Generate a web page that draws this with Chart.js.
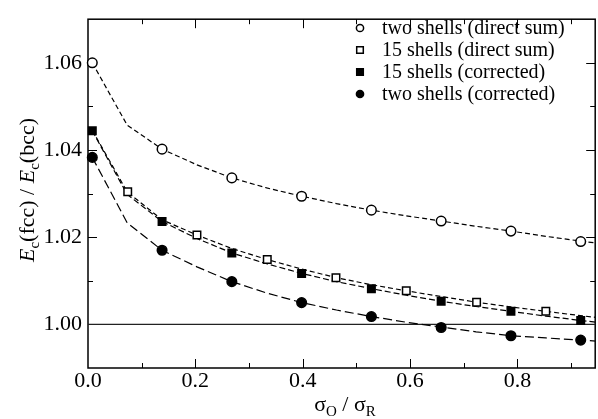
<!DOCTYPE html>
<html>
<head>
<meta charset="utf-8">
<script src="https://cdn.jsdelivr.net/npm/chart.js@4.4.1/dist/chart.umd.min.js"></script>
<style>
  html, body { margin: 0; padding: 0; background: #fff; overflow: hidden; }
  #wrap { width: 602px; height: 419px; }
</style>
</head>
<body>
<div id="wrap"><canvas id="ratioChart" width="602" height="419"></canvas></div>
<script>
// marker positions (sigma_O / sigma_R) and values
var xCircle = [0.008, 0.138, 0.268, 0.398, 0.528, 0.658, 0.788, 0.918];
var xSquare = [0.074, 0.203, 0.334, 0.462, 0.593, 0.724, 0.853];

var twoDirect = [1.0600, 1.0402, 1.0336, 1.0294, 1.0262, 1.0237, 1.0214, 1.0190];
var fifteenDirect = [1.0304, 1.0205, 1.0149, 1.0107, 1.0077, 1.0051, 1.0030];
var fifteenCorr = [1.0444, 1.0236, 1.0164, 1.0117, 1.0082, 1.0053, 1.0030, 1.0009];
var twoCorr = [1.0383, 1.0170, 1.0098, 1.0050, 1.0018, 0.9993, 0.9974, 0.9964];

// dashed fit curves, sampled along x
var xCurve = [0.008, 0.073, 0.138, 0.203, 0.268, 0.333, 0.398, 0.463, 0.528, 0.593, 0.658, 0.723, 0.788, 0.853, 0.918, 0.983];
var curveTwoDirect = [1.0600, 1.0457, 1.0402, 1.0366, 1.0336, 1.0313, 1.0294, 1.0277, 1.0262, 1.0249, 1.0237, 1.0225, 1.0214, 1.0202, 1.0191, 1.0181];
var curveFifteenDirect = [1.0445, 1.0304, 1.0240, 1.0205, 1.0174, 1.0149, 1.0127, 1.0107, 1.0091, 1.0077, 1.0064, 1.0051, 1.0040, 1.0030, 1.0020, 1.0011];
var curveFifteenCorr = [1.0444, 1.0298, 1.0236, 1.0197, 1.0164, 1.0139, 1.0117, 1.0098, 1.0082, 1.0067, 1.0053, 1.0041, 1.0030, 1.0019, 1.0009, 1.0000];
var curveTwoCorr = [1.0383, 1.0233, 1.0170, 1.0132, 1.0098, 1.0072, 1.0050, 1.0033, 1.0018, 1.0005, 0.9994, 0.9983, 0.9974, 0.9969, 0.9964, 0.9959];

var xTicks = [0.0, 0.2, 0.4, 0.6, 0.8];
var yTicks = [1.00, 1.02, 1.04, 1.06];

var legendLabels = ['two shells (direct sum)', '15 shells (direct sum)', '15 shells (corrected)', 'two shells (corrected)'];

var serif = '"Liberation Serif", "DejaVu Serif", serif';

function pts(xs, ys) {
  return ys.map(function(v, i) { return { x: xs[i], y: v }; });
}

function markerSet(label, xs, ys, style, filled, r) {
  return {
    label: label,
    data: pts(xs, ys),
    showLine: false,
    pointStyle: style,
    pointRadius: r,
    pointHoverRadius: r,
    pointBorderWidth: 1.5,
    borderColor: '#000',
    backgroundColor: filled ? '#000' : '#fff',
    clip: 10,
    order: 1
  };
}

function curveSet(ys, dash) {
  return {
    data: pts(xCurve, ys),
    showLine: true,
    pointRadius: 0,
    borderColor: '#000',
    borderWidth: 1.2,
    borderDash: dash,
    tension: 0,
    order: 2
  };
}

// frame with inward ticks on all four sides
var framePlugin = {
  id: 'frame',
  beforeDatasetsDraw: function(chart) {
    var ctx = chart.ctx, a = chart.chartArea;
    var x = chart.scales.x, y = chart.scales.y;
    ctx.save();
    ctx.strokeStyle = '#000';
    ctx.lineWidth = 1;
    ctx.beginPath();
    for (var i = 1; i <= 9; i++) {
      var px = Math.round(x.getPixelForValue(i / 10)) + 0.5;
      var len = i % 2 === 0 ? 9 : 5;
      ctx.moveTo(px, a.bottom); ctx.lineTo(px, a.bottom - len);
      ctx.moveTo(px, a.top); ctx.lineTo(px, a.top + len);
    }
    for (var j = 100; j <= 106; j++) {
      var py = Math.round(y.getPixelForValue(j / 100)) + 0.5;
      var l2 = j % 2 === 0 ? 9 : 5;
      ctx.moveTo(a.left, py); ctx.lineTo(a.left + l2, py);
      ctx.moveTo(a.right, py); ctx.lineTo(a.right - l2, py);
    }
    ctx.stroke();
    ctx.lineWidth = 1.5;
    ctx.strokeRect(a.left, a.top, a.right - a.left, a.bottom - a.top);
    ctx.restore();
  }
};

function drawRich(ctx, parts, cx, cy) {
  var total = 0;
  parts.forEach(function(p) { ctx.font = p.font; total += ctx.measureText(p.t).width; });
  var cur = cx - total / 2;
  parts.forEach(function(p) {
    ctx.font = p.font;
    ctx.fillText(p.t, cur, cy + (p.dy || 0));
    cur += ctx.measureText(p.t).width;
  });
}

var textPlugin = {
  id: 'texts',
  afterDraw: function(chart) {
    var ctx = chart.ctx;
    var big = '22px ' + serif, bigIt = 'italic 22px ' + serif, sub = '15px ' + serif;
    ctx.save();
    ctx.fillStyle = '#000';
    ctx.textBaseline = 'alphabetic';
    ctx.textAlign = 'left';

    // y axis title
    ctx.save();
    ctx.translate(34, 190);
    ctx.rotate(-Math.PI / 2);
    drawRich(ctx, [
      { t: 'E', font: bigIt }, { t: 'c', font: sub, dy: 5 }, { t: '(fcc) / ', font: big },
      { t: 'E', font: bigIt }, { t: 'c', font: sub, dy: 5 }, { t: '(bcc)', font: big }
    ], 0, 0);
    ctx.restore();

    // x axis title
    drawRich(ctx, [
      { t: 'σ', font: big }, { t: 'O', font: sub, dy: 5 }, { t: ' / σ', font: big }, { t: 'R', font: sub, dy: 5 }
    ], 345, 411);

    // legend
    var lx = 360, ly = [28, 50, 72, 94];
    ctx.lineWidth = 1.5;
    ctx.strokeStyle = '#000';
    for (var i = 0; i < 4; i++) {
      ctx.beginPath();
      if (i === 0 || i === 3) {
        ctx.arc(lx, ly[i], 3.6, 0, Math.PI * 2);
      } else {
        ctx.rect(lx - 3.3, ly[i] - 3.3, 6.6, 6.6);
      }
      ctx.fillStyle = (i >= 2) ? '#000' : '#fff';
      ctx.fill();
      ctx.stroke();
    }
    ctx.fillStyle = '#000';
    ctx.font = '20px ' + serif;
    ctx.textBaseline = 'middle';
    legendLabels.forEach(function(t, i) { ctx.fillText(t, 382, ly[i] + 1); });
    ctx.restore();
  }
};

var ctx = document.getElementById('ratioChart').getContext('2d');

new Chart(ctx, {
  type: 'scatter',
  data: {
    datasets: [
      markerSet(legendLabels[0], xCircle, twoDirect, 'circle', false, 4.8),
      markerSet(legendLabels[1], xSquare, fifteenDirect, 'rect', false, 5.3),
      markerSet(legendLabels[2], xCircle, fifteenCorr, 'rect', true, 5.3),
      markerSet(legendLabels[3], xCircle, twoCorr, 'circle', true, 4.8),
      curveSet(curveTwoDirect, [5, 3]),
      curveSet(curveFifteenDirect, [5, 3]),
      curveSet(curveFifteenCorr, [6, 3]),
      curveSet(curveTwoCorr, [9, 4]),
      {
        data: [{ x: 0, y: 1.0 }, { x: 1, y: 1.0 }],
        showLine: true,
        pointRadius: 0,
        borderColor: '#222',
        borderWidth: 1.3,
        order: 3
      }
    ]
  },
  options: {
    responsive: false,
    animation: false,
    devicePixelRatio: 1,
    layout: { padding: { top: 9, right: 2, left: 0, bottom: 0 } },
    plugins: {
      legend: { display: false },
      tooltip: { enabled: false }
    },
    scales: {
      x: {
        type: 'linear',
        min: 0,
        max: 0.945,
        grid: { display: false, drawTicks: false },
        border: { display: false },
        afterFit: function(s) { s.height = 51; },
        afterBuildTicks: function(s) {
          s.ticks = xTicks.map(function(v) { return { value: v }; });
        },
        ticks: {
          autoSkip: false,
          padding: 0,
          color: '#000',
          font: { family: serif, size: 22 },
          maxRotation: 0,
          callback: function(v) { return Number(v).toFixed(1); }
        }
      },
      y: {
        type: 'linear',
        min: 0.99,
        max: 1.07,
        grid: { display: false, drawTicks: false },
        border: { display: false },
        afterFit: function(s) { s.width = 88; },
        afterBuildTicks: function(s) {
          s.ticks = yTicks.map(function(v) { return { value: v }; });
        },
        ticks: {
          autoSkip: false,
          padding: 6,
          color: '#000',
          font: { family: serif, size: 22 },
          callback: function(v) { return Number(v).toFixed(2); }
        }
      }
    }
  },
  plugins: [framePlugin, textPlugin]
});
</script>
</body>
</html>
